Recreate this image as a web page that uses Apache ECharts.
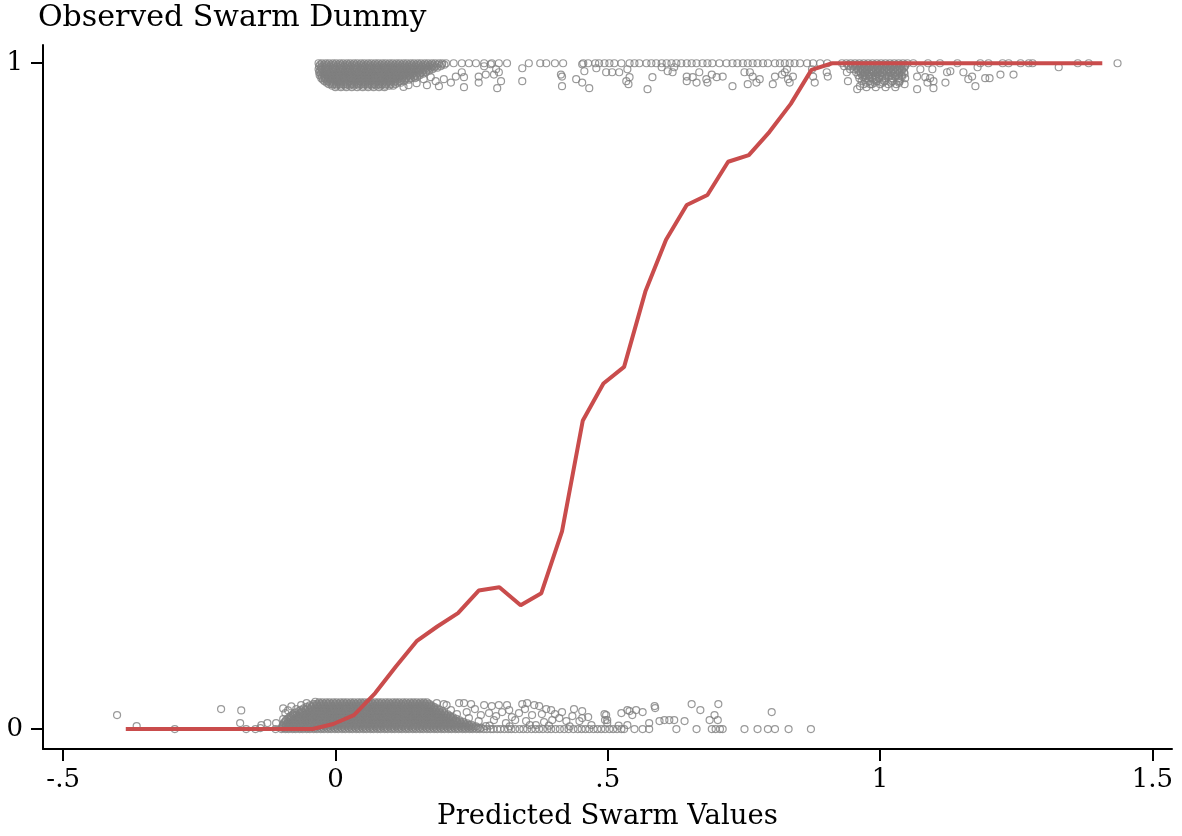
<!DOCTYPE html>
<html>
<head>
<meta charset="utf-8">
<script src="https://cdn.jsdelivr.net/npm/echarts@6/dist/echarts.min.js"></script>
<style>
  html, body { margin: 0; padding: 0; background: #fff; }
  #chart { width: 1182px; height: 836px; }
</style>
</head>
<body>
<div id="chart"></div>
<script>
// Binned mean of the observed dummy against the predicted value
const lineX = [-.385,-.347,-.309,-.270,-.232,-.194,-.156,-.118,-.080,-.042,-.004,.034,.073,.111,.149,.187,.225,.263,.301,.340,.378,.416,.454,.492,.530,.569,.607,.645,.683,.721,.759,.797,.836,.874,.912,.950,.988,1.026,1.065,1.103,1.141,1.179,1.217,1.255,1.293,1.332,1.370,1.408];
const lineY = [0,0,0,0,0,0,0,0,0,0,.0075,.021,.054,.094,.132,.154,.174,.208,.213,.186,.204,.297,.463,.519,.544,.657,.735,.787,.802,.852,.862,.897,.939,.990,1,1,1,1,1,1,1,1,1,1,1,1,1,1];

// Axis ticks
const xTicks = [-0.5, 0, 0.5, 1, 1.5];
const xTickLabels = ['-.5', '0', '.5', '1', '1.5'];
const yTicks = [0, 1];
const yTickLabels = ['0', '1'];

// Observations with dummy = 0 (jittered upward): dense core, one row per jitter level
const zeroCoreLevels = [.040,.0378,.0355,.0333,.031,.0288,.0265,.0243,.022,.0198,.0175,.0153,.013,.0108,.0085,.0063,.004,.0018,0];
const zeroCoreX = [
  [-.030,-.024,-.017,-.011,-.004,.002,.009,.015,.021,.028,.034,.041,.047,.053,.060,.066,.073,.079,.085,.092,.098,.105,.111,.117,.124,.130,.137,.143,.149,.156,.162,.168],
  [-.040,-.034,-.027,-.021,-.014,-.008,-.001,.005,.012,.018,.025,.031,.037,.044,.050,.057,.063,.069,.076,.082,.089,.095,.101,.108,.114,.121,.127,.133,.140,.146,.153,.159,.165,.172],
  [-.047,-.040,-.034,-.027,-.021,-.014,-.008,-.001,.005,.012,.018,.025,.031,.038,.044,.050,.057,.063,.070,.076,.082,.089,.095,.102,.108,.114,.121,.127,.134,.140,.146,.153,.159,.165,.172,.176],
  [-.053,-.044,-.037,-.031,-.024,-.018,-.011,-.005,.002,.008,.015,.021,.028,.034,.041,.047,.054,.060,.067,.073,.079,.086,.092,.099,.105,.111,.118,.124,.131,.137,.143,.150,.156,.162,.169,.175,.181],
  [-.058,-.051,-.045,-.038,-.032,-.025,-.019,-.012,-.006,.001,.007,.014,.020,.027,.033,.039,.046,.052,.059,.065,.072,.078,.084,.091,.097,.104,.110,.117,.123,.129,.136,.142,.149,.155,.162,.168,.174,.181,.186],
  [-.064,-.055,-.048,-.042,-.035,-.029,-.022,-.016,-.009,-.003,.004,.010,.017,.023,.030,.036,.043,.049,.056,.062,.069,.075,.081,.088,.094,.101,.107,.114,.120,.126,.133,.139,.146,.152,.159,.165,.171,.178,.184,.191],
  [-.068,-.062,-.055,-.049,-.042,-.036,-.029,-.023,-.016,-.010,-.003,.003,.010,.016,.023,.029,.036,.042,.049,.055,.062,.068,.075,.081,.088,.094,.101,.107,.113,.120,.126,.133,.139,.146,.152,.159,.165,.172,.178,.184,.190,.196],
  [-.074,-.065,-.059,-.052,-.046,-.039,-.033,-.026,-.020,-.013,-.007,.000,.006,.013,.019,.026,.032,.039,.045,.052,.058,.065,.071,.078,.084,.091,.097,.104,.110,.117,.123,.130,.136,.143,.149,.156,.162,.169,.175,.181,.187,.193,.200],
  [-.078,-.071,-.065,-.058,-.052,-.045,-.039,-.032,-.026,-.019,-.013,-.006,.000,.007,.013,.020,.026,.033,.039,.046,.052,.059,.065,.072,.078,.085,.091,.098,.104,.111,.117,.124,.130,.136,.143,.149,.156,.162,.169,.175,.182,.188,.194,.200,.206],
  [-.082,-.075,-.068,-.062,-.055,-.049,-.042,-.036,-.029,-.023,-.016,-.010,-.003,.003,.010,.016,.023,.029,.036,.042,.049,.055,.062,.068,.075,.081,.088,.094,.101,.107,.114,.120,.127,.133,.139,.146,.152,.159,.165,.172,.178,.185,.191,.197,.203,.210],
  [-.085,-.079,-.072,-.066,-.059,-.053,-.046,-.040,-.033,-.027,-.020,-.014,-.007,-.001,.006,.012,.019,.025,.032,.038,.045,.051,.058,.064,.071,.077,.084,.090,.097,.103,.110,.116,.123,.129,.136,.142,.149,.155,.162,.168,.175,.181,.188,.194,.200,.206,.212,.216],
  [-.088,-.082,-.075,-.069,-.062,-.056,-.049,-.043,-.036,-.030,-.023,-.017,-.010,-.004,.003,.009,.016,.022,.029,.035,.042,.048,.055,.061,.068,.074,.081,.087,.094,.100,.107,.113,.120,.126,.133,.139,.146,.152,.159,.165,.172,.178,.185,.191,.197,.203,.209,.215,.222],
  [-.091,-.084,-.078,-.071,-.065,-.058,-.052,-.045,-.039,-.032,-.026,-.019,-.013,-.006,.000,.007,.013,.020,.026,.033,.039,.046,.052,.059,.065,.072,.078,.085,.091,.098,.104,.111,.117,.124,.130,.137,.143,.150,.156,.163,.169,.176,.182,.189,.195,.202,.208,.214,.220,.228],
  [-.093,-.087,-.081,-.074,-.068,-.061,-.055,-.048,-.042,-.035,-.029,-.022,-.016,-.009,-.003,.004,.010,.017,.023,.030,.036,.043,.049,.056,.062,.069,.075,.082,.088,.095,.101,.108,.114,.121,.127,.134,.140,.147,.153,.160,.166,.173,.179,.186,.192,.199,.205,.211,.217,.223,.229,.235],
  [-.095,-.088,-.082,-.075,-.069,-.062,-.056,-.049,-.043,-.036,-.030,-.023,-.017,-.010,-.004,.003,.009,.016,.022,.029,.035,.042,.048,.055,.061,.068,.074,.081,.087,.094,.100,.107,.113,.120,.126,.133,.139,.146,.152,.159,.165,.172,.178,.185,.191,.198,.204,.211,.217,.224,.230,.236,.242],
  [-.096,-.091,-.085,-.078,-.072,-.065,-.059,-.052,-.046,-.039,-.033,-.026,-.020,-.013,-.007,.000,.006,.013,.019,.026,.032,.039,.045,.052,.058,.065,.071,.078,.084,.091,.097,.104,.110,.117,.123,.130,.136,.143,.149,.156,.162,.169,.175,.182,.188,.195,.201,.208,.214,.221,.227,.233,.239,.245,.250],
  [-.097,-.091,-.084,-.078,-.071,-.065,-.058,-.052,-.045,-.039,-.032,-.026,-.019,-.013,-.006,.000,.007,.013,.020,.026,.033,.039,.046,.052,.059,.065,.072,.078,.085,.091,.098,.104,.111,.117,.124,.130,.137,.143,.150,.156,.163,.169,.176,.182,.189,.195,.202,.208,.215,.221,.228,.234,.240,.246,.252,.258],
  [-.098,-.094,-.088,-.081,-.075,-.068,-.062,-.055,-.049,-.042,-.036,-.029,-.023,-.016,-.010,-.003,.003,.010,.016,.023,.029,.036,.042,.049,.055,.062,.068,.075,.081,.088,.094,.101,.107,.114,.120,.127,.133,.140,.146,.153,.159,.166,.172,.179,.185,.192,.198,.205,.211,.218,.224,.231,.237,.243,.249,.255,.262,.268],
  [-.099,-.092,-.086,-.079,-.073,-.066,-.060,-.053,-.047,-.040,-.034,-.027,-.021,-.014,-.008,-.001,.005,.012,.018,.025,.031,.038,.044,.051,.057,.064,.070,.077,.083,.090,.096,.103,.109,.116,.122,.129,.135,.142,.148,.155,.161,.168,.174,.181,.187,.194,.200,.207,.213,.220,.226,.233,.239,.246,.252,.259,.265,.272,.278,.285]
];
// dummy = 0, no visible jitter, beyond the core
const zeroBaseX = [.290,.297,.303,.310,.317,.323,.330,.338,.345,.352,.360,.367,.374,.381,.389,.396,.404,.412,.420,.428,.437,.445,.452,.459,.466,.474,.481,.488,.495,.503,.510,.517,.525,.530,.549,.564,.576,.626,.663,.691,.698,.706,.711,.751,.775,.794,.807,.832,.873];
// dummy = 0, scattered observations [predicted, jittered dummy]
const zeroScatter = [
  [-.401,.021],[-.365,.0045],[-.295,0],[-.210,.030],[-.173,.028],[-.175,.009],[-.164,0],[-.147,0],[-.138,.0015],[-.136,.006],
  [-.125,.009],[-.110,0],[-.109,.009],[-.096,.031],[-.092,.024],[-.096,.015],[-.081,.034],[-.077,.022],[-.063,.036],[-.053,.039],
  [-.037,.041],[-.087,.028],[-.072,.030],
  [.186,.039],[.199,.0375],[.204,.036],[.227,.039],[.236,.039],[.249,.0375],[.273,.036],[.287,.0345],[.300,.036],[.315,.036],
  [.343,.0375],[.352,.039],[.365,.036],[.374,.0345],[.387,.030],[.396,.0285],[.416,.0255],[.438,.030],[.453,.027],[.453,.0165],
  [.448,.012],[.464,.018],[.497,.021],[.499,.0135],[.525,.024],[.536,.0285],
  [.282,.024],[.295,.0195],[.324,.018],[.337,.024],[.361,.021],[.379,.0225],[.398,.0135],[.411,.0165],[.424,.012],[.435,.0195],
  [.350,.012],[.313,.009],[.368,.006],[.263,.012],[.276,.0045],
  [.212,.0285],[.223,.0225],[.241,.0255],[.256,.030],[.267,.021],[.245,.0165],[.306,.0255],[.319,.0285],[.330,.0135],[.291,.0135],
  [.383,.0105],[.403,.0225],[.348,.030],
  [.283,.005],[.320,.004],[.357,.006],[.392,.005],[.430,.004],[.470,.006],[.520,.005],
  [.494,.0225],[.495,.0135],[.499,.009],[.540,.027],[.545,.021],[.552,.0285],[.564,.0255],[.586,.0345],[.587,.0315],[.536,.006],
  [.576,.009],[.595,.012],[.604,.0135],[.613,.0135],[.622,.0135],[.641,.012],[.654,.0375],[.670,.0285],[.687,.0135],[.696,.021],
  [.703,.0375],[.702,.0135],[.801,.0255]
];

// Observations with dummy = 1 (jittered downward): dense core left of 0.2
const oneCoreLevels = [1,.9978,.9955,.9933,.991,.9888,.9865,.9843,.982,.9798,.9775,.9753,.973,.9708,.9685,.9663,.964];
const oneCoreX = [
  [-.031,-.025,-.018,-.012,-.005,.001,.008,.014,.021,.027,.034,.040,.047,.053,.060,.066,.073,.079,.086,.092,.099,.105,.112,.118,.125,.131,.138,.144,.151,.157,.164,.170,.177,.183,.190,.196,.203],
  [-.028,-.021,-.015,-.008,-.002,.005,.011,.018,.024,.031,.037,.044,.050,.057,.063,.070,.076,.083,.089,.096,.102,.109,.115,.122,.128,.135,.141,.148,.154,.161,.167,.174,.180,.187,.195,.200],
  [-.030,-.024,-.017,-.011,-.004,.002,.009,.015,.022,.028,.035,.041,.048,.054,.061,.067,.074,.080,.087,.093,.100,.106,.113,.119,.126,.132,.139,.145,.152,.158,.165,.171,.178,.184,.193],
  [-.027,-.020,-.014,-.007,-.001,.006,.012,.019,.025,.032,.038,.045,.051,.058,.064,.071,.077,.084,.090,.097,.103,.110,.116,.123,.129,.136,.142,.149,.155,.162,.168,.175,.181,.187],
  [-.031,-.025,-.018,-.012,-.005,.001,.008,.014,.021,.027,.034,.040,.047,.053,.060,.066,.073,.079,.086,.092,.099,.105,.112,.118,.125,.131,.138,.144,.151,.157,.164,.170,.178],
  [-.028,-.021,-.015,-.008,-.002,.005,.011,.018,.024,.031,.037,.044,.050,.057,.063,.070,.076,.083,.089,.096,.102,.109,.115,.122,.128,.135,.141,.148,.154,.161,.167,.172],
  [-.030,-.024,-.017,-.011,-.004,.002,.009,.015,.022,.028,.035,.041,.048,.054,.061,.067,.074,.080,.087,.093,.100,.106,.113,.119,.126,.132,.139,.145,.152,.158,.166],
  [-.027,-.020,-.014,-.007,-.001,.006,.012,.019,.025,.032,.038,.045,.051,.058,.064,.071,.077,.084,.090,.097,.103,.110,.116,.123,.129,.136,.142,.149,.155,.161],
  [-.029,-.022,-.016,-.009,-.003,.004,.010,.017,.023,.030,.036,.043,.049,.056,.062,.069,.075,.082,.088,.095,.101,.108,.114,.121,.127,.134,.140,.147,.155],
  [-.025,-.019,-.012,-.006,.001,.007,.014,.020,.027,.033,.040,.046,.053,.059,.066,.072,.079,.085,.092,.098,.105,.111,.118,.124,.131,.137,.144,.150],
  [-.026,-.020,-.013,-.007,.000,.006,.013,.019,.026,.032,.039,.045,.052,.058,.065,.071,.078,.084,.091,.097,.104,.110,.117,.123,.130,.138,.146],
  [-.023,-.017,-.010,-.004,.003,.009,.016,.022,.029,.035,.042,.048,.055,.061,.068,.074,.081,.087,.094,.100,.107,.114,.121,.128,.135],
  [-.020,-.014,-.007,-.001,.006,.012,.019,.025,.032,.038,.045,.051,.058,.064,.071,.077,.084,.090,.097,.103,.110,.118,.126],
  [-.016,-.010,-.004,.003,.009,.016,.022,.029,.035,.042,.048,.055,.061,.068,.074,.081,.087,.094,.100,.107,.114,.120],
  [-.012,-.005,.002,.008,.015,.021,.028,.034,.041,.047,.054,.060,.067,.073,.080,.086,.093,.101,.110],
  [-.006,.002,.010,.018,.026,.034,.043,.051,.059,.067,.075,.083,.091,.099,.106],
  [.000,.010,.020,.030,.040,.050,.060,.070,.080,.090]
];
// dummy = 1: second cluster around 1
const oneRightLevels = [1,.9978,.9955,.9933,.991,.9888,.9865,.9843,.982,.9798,.9775,.9753,.973,.9708,.9685,.964];
const oneRightX = [
  [.930,.938,.946,.954,.962,.970,.978,.986,.994,1.002,1.010,1.018,1.026,1.034,1.042,1.050],
  [.942,.950,.958,.966,.974,.982,.990,.998,1.006,1.014,1.022,1.030,1.038,1.046],
  [.934,.942,.950,.958,.966,.974,.982,.990,.998,1.006,1.014,1.022,1.030,1.038,1.046],
  [.956,.964,.972,.980,.988,.996,1.004,1.012,1.020,1.028,1.036,1.044],
  [.952,.960,.968,.976,.984,.992,1.000,1.008,1.016,1.024,1.032,1.040],
  [.960,.968,.976,.984,.992,1.000,1.008,1.016,1.024,1.032,1.040],
  [.956,.964,.972,.980,.988,.996,1.004,1.012,1.020,1.028,1.036,1.044],
  [.965,.975,.985,.995,1.005,1.015,1.025,1.035,1.045],
  [.960,.970,.980,.990,1.000,1.010,1.020,1.030,1.040],
  [.968,.980,.992,1.004,1.016,1.028,1.040],
  [.962,.974,.986,.998,1.010,1.022,1.034,1.046],
  [.972,.988,1.004,1.020,1.036],
  [.966,.980,.994,1.008,1.022,1.036],
  [.975,.990,1.005,1.020,1.035],
  [.970,.985,1.000,1.015,1.030,1.045],
  [.975,.992,1.010,1.028]
];
// dummy = 1, no visible jitter
const oneTopX = [.217,.232,.245,.258,.273,.287,.300,.315,.355,.376,.387,.403,.418,.455,.464,.477,.484,.494,.503,.512,.525,.540,.549,.558,.571,.580,.589,.599,.608,.617,.626,.635,.645,.654,.663,.674,.683,.692,.705,.718,.729,.738,.748,.757,.766,.775,.785,.794,.807,.816,.825,.834,.843,.853,.866,.877,.890,.903,1.061,1.088,1.110,1.142,1.184,1.199,1.225,1.236,1.258,1.273,1.280,1.363,1.383,1.436];
// dummy = 1, scattered observations [predicted, jittered dummy]
const oneScatter = [
  [.232,.9865],[.236,.979],[.221,.980],[.212,.971],[.236,.964],[.190,.9655],[.199,.976],[.184,.973],[.263,.980],[.263,.971],
  [.276,.983],[.273,.9955],[.285,.9985],[.295,.991],[.300,.9865],[.291,.983],[.304,.973],[.297,.9625],[.343,.9925],[.343,.973],
  [.414,.983],[.416,.980],[.416,.9655],[.442,.976],[.453,.9985],[.457,.988],[.453,.971],[.466,.9625],
  [.134,.967],[.149,.970],[.162,.976],[.175,.979],[.168,.967],[.125,.9645],
  [.479,.9925],[.497,.9865],[.508,.9865],[.521,.9865],[.536,.991],[.540,.979],[.534,.973],[.538,.9685],[.573,.961],[.582,.979],
  [.599,.994],[.610,.988],[.619,.9865],[.622,.994],[.645,.980],[.645,.973],[.656,.979],[.663,.971],[.668,.9865],[.681,.976],
  [.683,.971],[.691,.983],[.700,.979],[.711,.980],[.729,.9655],[.751,.9865],[.757,.9685],[.761,.9865],[.766,.980],[.773,.971],
  [.779,.976],[.807,.980],[.803,.9685],[.820,.983],[.825,.9865],[.831,.976],[.834,.971],[.829,.991],[.840,.980],[.875,.991],
  [.877,.980],[.880,.971],[.902,.9865],[.904,.980],
  [.939,.9865],[.941,.973],[.945,.991],[.958,.961],[.963,.9655],[.972,.983],[.982,.9685],[.994,.976],[.987,.988],
  [1.074,.991],[1.068,.980],[1.068,.961],[1.083,.979],[1.087,.971],[1.092,.9775],[1.098,.973],[1.098,.9625],[1.096,.991],
  [1.120,.971],[1.123,.9865],[1.129,.988],[1.153,.9865],[1.162,.976],[1.169,.980],[1.175,.9655],[1.179,.994],[1.193,.9775],
  [1.201,.9775],[1.221,.983],[1.245,.983],[1.328,.994]
];

// Assemble the marks
const points = [];
zeroCoreLevels.forEach((y, i) => zeroCoreX[i].forEach(x => points.push([x, y])));
zeroBaseX.forEach(x => points.push([x, 0]));
zeroScatter.forEach(p => points.push(p));
oneCoreLevels.forEach((y, i) => oneCoreX[i].forEach(x => points.push([x, y])));
oneRightLevels.forEach((y, i) => oneRightX[i].forEach(x => points.push([x, y])));
oneTopX.forEach(x => points.push([x, 1]));
oneScatter.forEach(p => points.push(p));

const lineData = lineX.map((x, i) => [x, lineY[i]]);

const serif = 'DejaVu Serif';
const pickLabel = (ticks, labels) => v => {
  let best = 0;
  ticks.forEach((t, i) => { if (Math.abs(t - v) < Math.abs(ticks[best] - v)) best = i; });
  return labels[best];
};

const chart = echarts.init(document.getElementById('chart'), null, { renderer: 'canvas' });
chart.setOption({
  animation: false,
  backgroundColor: '#ffffff',
  title: {
    text: 'Observed Swarm Dummy',
    left: 38,
    top: 3,
    padding: 0,
    textStyle: { fontFamily: serif, fontWeight: 'normal', fontSize: 30, color: '#000' }
  },
  grid: { left: 43, right: 10, top: 45, bottom: 85, containLabel: false },
  xAxis: {
    type: 'value',
    min: -0.537,
    max: 1.536,
    name: 'Predicted Swarm Values',
    nameLocation: 'middle',
    nameGap: 54,
    nameTextStyle: { fontFamily: serif, fontSize: 27.5, color: '#000' },
    axisLine: { show: true, onZero: false, lineStyle: { color: '#000', width: 2 } },
    axisTick: { show: true, inside: false, length: 12, customValues: xTicks, lineStyle: { color: '#000', width: 2 } },
    axisLabel: { customValues: xTicks, margin: 18, formatter: pickLabel(xTicks, xTickLabels), fontFamily: serif, fontSize: 26, color: '#000' },
    splitLine: { show: false }
  },
  yAxis: {
    type: 'value',
    min: -0.03,
    max: 1.0274,
    axisLine: { show: true, onZero: false, lineStyle: { color: '#000', width: 2 } },
    axisTick: { show: true, inside: false, length: 12, customValues: yTicks, lineStyle: { color: '#000', width: 2 } },
    axisLabel: { customValues: yTicks, margin: 20, formatter: pickLabel(yTicks, yTickLabels), fontFamily: serif, fontSize: 26, color: '#000' },
    splitLine: { show: false }
  },
  series: [
    {
      type: 'scatter',
      data: points,
      symbol: 'circle',
      symbolSize: 7,
      silent: true,
      itemStyle: { color: 'rgba(0,0,0,0)', borderColor: '#808080', borderWidth: 1.2 },
      z: 2
    },
    {
      type: 'line',
      data: lineData,
      symbol: 'none',
      silent: true,
      lineStyle: { color: '#c94c4c', width: 4 },
      z: 3
    }
  ]
});
</script>
</body>
</html>
